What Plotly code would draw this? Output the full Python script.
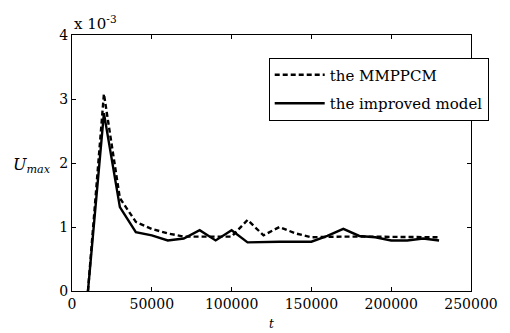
import plotly.graph_objects as go

t = [10000, 20000, 30000, 40000, 50000, 60000, 70000, 80000, 90000, 100000,
     110000, 120000, 130000, 140000, 150000, 160000, 170000, 180000, 190000,
     200000, 210000, 220000, 230000]
mmppcm = [0.0, 3.08, 1.45, 1.08, 0.97, 0.90, 0.85, 0.85, 0.85, 0.85,
          1.11, 0.87, 1.00, 0.90, 0.84, 0.85, 0.85, 0.85, 0.85,
          0.85, 0.85, 0.85, 0.84]
improved = [0.0, 2.78, 1.31, 0.92, 0.87, 0.79, 0.82, 0.95, 0.79, 0.95,
            0.76, 0.77, 0.77, 0.77, 0.77, 0.86, 0.97, 0.86, 0.84,
            0.79, 0.79, 0.82, 0.79]
x_ticks = [0, 50000, 100000, 150000, 200000, 250000]
y_ticks = [0, 1, 2, 3, 4]

FONT = "DejaVu Serif"

fig = go.Figure()
fig.add_trace(go.Scatter(x=t, y=mmppcm, mode="lines", name="the MMPPCM",
                         legendgroup="a",
                         line=dict(color="black", width=2.4, dash="5px,3px")))
fig.add_trace(go.Scatter(x=t, y=improved, mode="lines", name="the improved model",
                         legendgroup="b",
                         line=dict(color="black", width=2.4)))

axis_common = dict(showline=True, linecolor="black", linewidth=1, mirror="ticks",
                   ticks="inside", ticklen=4, tickcolor="black", showgrid=False,
                   zeroline=False, ticklabeloverflow="allow",
                   tickfont=dict(family=FONT, size=14, color="black"))
fig.update_xaxes(range=[0, 250000], tickvals=x_ticks,
                 ticktext=[str(v) for v in x_ticks], **axis_common)
fig.update_yaxes(range=[0, 4], tickvals=y_ticks,
                 ticktext=[str(v) for v in y_ticks], **axis_common)

fig.update_layout(
    width=510, height=333,
    margin=dict(l=72, r=23, t=35, b=42),
    plot_bgcolor="white", paper_bgcolor="white",
    font=dict(family=FONT, size=15, color="black"),
    showlegend=True,
    legend=dict(
        x=0.493, y=0.912, xanchor="left", yanchor="top",
        bordercolor="black", borderwidth=1, bgcolor="white",
        font=dict(family=FONT, size=15, color="black"),
        itemwidth=50, tracegroupgap=6),
    annotations=[
        dict(text="x 10<sup>-3</sup>", xref="paper", yref="paper", x=0.0, y=1.0,
             xanchor="left", yanchor="bottom", showarrow=False,
             font=dict(family=FONT, size=15)),
        dict(text="<i>U</i><sub><i>max</i></sub>", xref="paper", yref="paper",
             x=-0.10, y=0.49, xanchor="center", yanchor="middle", showarrow=False,
             font=dict(family=FONT, size=16)),
        dict(text="<i>t</i>", xref="paper", yref="paper", x=0.5, y=-0.13,
             xanchor="center", yanchor="middle", showarrow=False,
             font=dict(family=FONT, size=12)),
    ],
)

fig.write_html("out.html")
